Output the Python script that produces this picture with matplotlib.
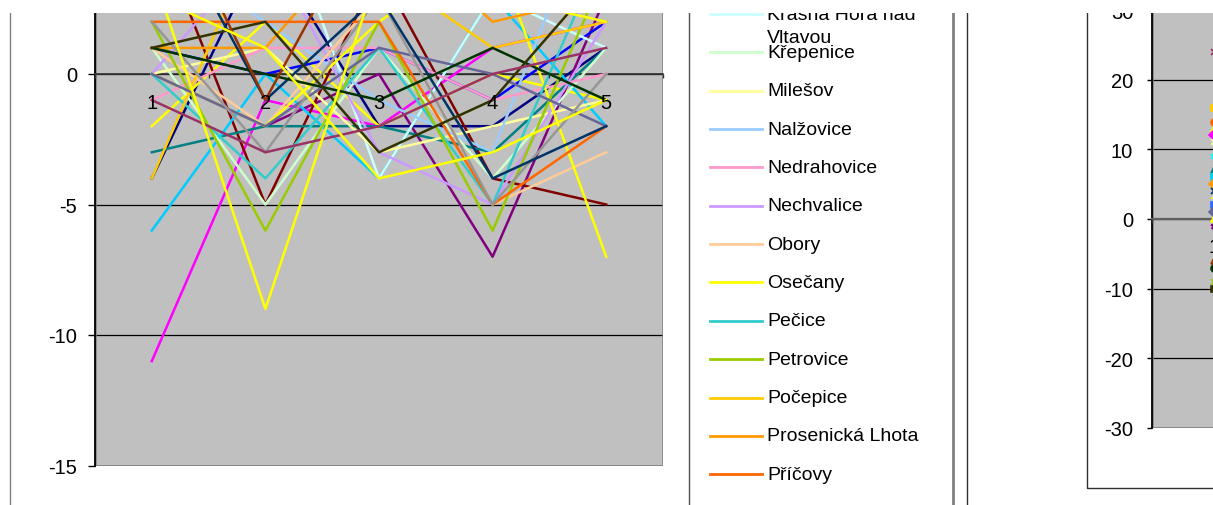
import textwrap

import matplotlib
matplotlib.use('Agg')
import matplotlib.pyplot as plt
from matplotlib.patches import Rectangle

plt.rcParams['font.family'] = ['Liberation Sans', 'DejaVu Sans']
plt.rcParams['axes.unicode_minus'] = False

W, H, DPI = 1213, 506, 100

categories = [1, 2, 3, 4, 5]

# left chart, one list per series (yearly change)
navy = [-4, 5, -2, -2, 1]
magenta = [-11, -1, -2, 1, 2]
yellow_a = [-2, 2, -2, 0, -1]
purple = [0, -2, 0, -7, 3]
dark_red = [6, -5, 4, -4, -5]
teal = [-3, -2, -2, -3, 1]
blue = [1, 0, 1, -1, 2]
sky_blue = [-6, 0, -4, 3, -2]
krasna_hora = [4, 8, -4, 3, 1]
krepenice = [1, -5, 1, -4, 1]
milesov = [0, 1, -3, -2, -1]
nalzovice = [5, 2, -1, -3, 8]
nedrahovice = [-1, 1, 1, -1, 0]
nechvalice = [0, 5, -3, -5, 2]
obory = [1, -2, 3, -5, -3]
osecany = [0, -2, 2, 5, -7]
pecice = [0, -4, 1, -5, 5]
petrovice = [2, -6, 2, -6, 4]
pocepice = [-4, 6, 4, 1, 2]
prosenicka_lhota = [1, 1, 6, 2, 3]
pricovy = [2, 2, 2, -5, -2]
blue_gray = [0, -2, 1, 0, -2]
gray = [2, -3, 3, -5, 0]
dark_teal = [7, -1, 3, -4, -2]
dark_green = [1, 0, -1, 1, -1]
olive = [1, 2, -3, -1, 4]
brown = [8, -1, 7, 5, 4]
plum = [-1, -3, -2, 0, 1]
yellow_b = [3, 1, -4, -3, -1]
yellow_c = [4, -9, 4, 3, 2]

left_values = [navy, magenta, yellow_a, purple, dark_red, teal, blue, sky_blue,
               krasna_hora, krepenice, milesov, nalzovice, nedrahovice,
               nechvalice, obory, osecany, pecice, petrovice, pocepice,
               prosenicka_lhota, pricovy, blue_gray, gray, dark_teal,
               dark_green, olive, brown, plum, yellow_b, yellow_c]
left_colors = ['#000080', '#FF00FF', '#FFFF00', '#800080', '#800000', '#008080',
               '#0000FF', '#00CCFF', '#CCFFFF', '#CCFFCC', '#FFFF99', '#99CCFF',
               '#FF99CC', '#CC99FF', '#FFCC99', '#FFFF00', '#33CCCC', '#99CC00',
               '#FFCC00', '#FF9900', '#FF6600', '#666699', '#969696', '#003366',
               '#003300', '#333300', '#993300', '#993366', '#FFFF00', '#FFFF00']
left_labels = [None] * 8 + ['Krásná Hora nad Vltavou', 'Křepenice', 'Milešov',
                            'Nalžovice', 'Nedrahovice', 'Nechvalice', 'Obory',
                            'Osečany', 'Pečice', 'Petrovice', 'Počepice',
                            'Prosenická Lhota', 'Příčovy'] + [None] * 9

# right chart, only the first category is inside the picture
right_cat1 = [24, 16, 14, 13, 12, 11, 9, 7, 6, 5, 4, 3, 2, 1, 0, -1, -6, -7, -9, -10]
right_colors = ['#993366', '#FFCC00', '#FF6600', '#FFFF00', '#FF00FF', '#FFFF99',
                '#00FFFF', '#008080', '#00CCFF', '#FF9900', '#003366', '#FFFF00',
                '#3366FF', '#666699', '#FFFF00', '#800080', '#993300', '#003300',
                '#99CC00', '#333300']
right_markers = ['x', 's', 'o', '^', 'D', 'x', '*', '^', 's', 'D', 'x', '+',
                 's', 'D', '^', '*', '^', 'o', 'x', 's']


def px_box(x0, y0, x1, y1):
    return [x0 / W, 1 - y1 / H, (x1 - x0) / W, (y1 - y0) / H]


def style_axes(ax, yticks, ypad, ylen, xpad):
    ax.set_facecolor('#C0C0C0')
    for s in ['top', 'right']:
        ax.spines[s].set_visible(False)
    ax.spines['bottom'].set_position(('data', 0))
    ax.spines['bottom'].set_color('#333333')
    ax.spines['bottom'].set_linewidth(1.2)
    ax.spines['left'].set_color('black')
    ax.spines['left'].set_linewidth(1.3)
    ax.add_patch(Rectangle((0, 0), 1, 1, transform=ax.transAxes, fill=False,
                           edgecolor='#808080', lw=1.8, zorder=2.4))
    ax.set_xlim(0.5, 5.5)
    ax.set_yticks(yticks)
    ax.tick_params(axis='y', direction='out', length=ylen, width=1,
                   pad=ypad, labelsize=14.5, color='black')
    ax.yaxis.grid(True, color='black', lw=0.9)
    ax.set_xticks(categories)
    ax.set_xticks([c - 0.5 for c in categories] + [5.5], minor=True)
    ax.tick_params(axis='x', which='major', length=0, pad=xpad, labelsize=14.5)
    ax.tick_params(axis='x', which='minor', length=3, width=1,
                   direction='out', color='#333333')
    ax.xaxis.set_zorder(4)


fig = plt.figure(figsize=(W / DPI, H / DPI), dpi=DPI)
fig.patch.set_facecolor('white')

# left chart (top is cut off by the screenshot)
ax = fig.add_axes(px_box(95, 75 - 5 * 26.1, 663, 75 + 15 * 26.1))
ax.set_ylim(-15, 5)
style_axes(ax, [-15, -10, -5, 0, 5], ypad=8, ylen=5, xpad=13.5)
for vals, col in zip(left_values, left_colors):
    ax.plot(categories, vals, color=col, lw=1.8, zorder=3)

# right chart (only its left edge is visible)
ax2 = fig.add_axes(px_box(1152, 220 - 3 * 69.6, 1772, 220 + 3 * 69.6))
ax2.set_ylim(-30, 30)
style_axes(ax2, [-30, -20, -10, 0, 10, 20, 30], ypad=10, ylen=3.6, xpad=13)
ax2.spines['bottom'].set_color('#606060')
ax2.spines['bottom'].set_linewidth(1.6)
for v, col, m in zip(right_cat1, right_colors, right_markers):
    ax2.plot([categories[0]], [v], marker=m, color=col, ms=5, mew=1.2,
             linestyle='none', zorder=3)

# borders and legend in pixel space
lax = fig.add_axes([0, 0, 1, 1])
lax.set_axis_off()
lax.set_xlim(0, W)
lax.set_ylim(H, 0)
lax.plot([10, 10], [14, H], color='#808080', lw=1)
lax.plot([689, 689], [14, H], color='#505050', lw=1)
lax.plot([953, 953], [14, H], color='#808080', lw=2)
lax.plot([967, 967], [14, H], color='#303030', lw=1)
lax.plot([1087, 1087, W], [14, 489, 489], color='#303030', lw=1)

k = 0
for name, col in zip(left_labels, left_colors):
    if name is None:
        continue
    y = 15 + 38.35 * k
    lax.plot([710, 762], [y, y], color=col, lw=2)
    for j, line in enumerate(textwrap.wrap(name, 16)):
        lax.text(767, y + 23 * j, line, ha='left', va='center', fontsize=14)
    k += 1

# white strip where the screenshot starts
fig.add_artist(Rectangle((0, 1 - 14 / H), 1, 14 / H, transform=fig.transFigure,
                         facecolor='white', edgecolor='none', zorder=100))

fig.savefig('out.png', dpi=DPI)
